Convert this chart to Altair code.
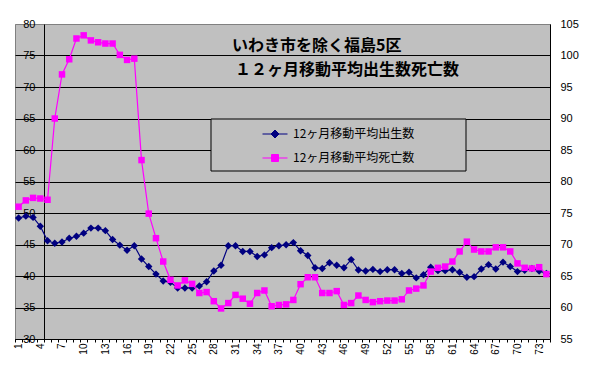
import altair as alt
import pandas as pd

months = list(range(1, 75))
births = [49.2, 49.5, 49.3, 47.9, 45.6, 45.2, 45.4, 46.0, 46.3, 46.8,
          47.6, 47.6, 47.2, 45.8, 44.9, 44.1, 44.8, 42.7, 41.5, 40.3,
          39.2, 39.0, 38.1, 38.1, 38.1, 38.4, 39.1, 40.8, 41.7, 44.8,
          44.8, 43.9, 43.9, 43.1, 43.35, 44.5, 44.8, 44.95, 45.3, 44.0,
          43.25, 41.3, 41.2, 42.1, 41.7, 41.3, 42.6, 40.95, 40.8, 41.05,
          40.7, 41.0, 41.0, 40.4, 40.6, 39.7, 40.2, 41.4, 40.85, 40.85,
          41.0, 40.6, 39.8, 39.9, 41.1, 41.8, 41.1, 42.2, 41.5, 40.7,
          40.9, 41.2, 40.8, 40.4]
deaths = [76.0, 77.0, 77.4, 77.3, 77.1, 90.0, 97.0, 99.4, 102.7, 103.2,
          102.4, 102.1, 101.9, 101.9, 100.1, 99.3, 99.5, 83.4, 74.9, 71.0,
          67.3, 64.4, 63.5, 64.3, 63.75, 62.3, 62.45, 61.0, 59.85, 60.7,
          62.0, 61.4, 60.6, 62.3, 62.7, 60.2, 60.4, 60.5, 61.2, 63.7,
          64.8, 64.8, 62.3, 62.3, 62.6, 60.4, 60.7, 61.9, 61.2, 60.85,
          61.0, 61.1, 61.1, 61.3, 62.7, 63.0, 63.5, 65.7, 66.3, 66.5,
          67.3, 68.9, 70.45, 69.2, 68.9, 68.9, 69.55, 69.55, 68.9, 67.0,
          66.3, 66.2, 66.4, 65.3]
series_names = ["12ヶ月移動平均出生数", "12ヶ月移動平均死亡数"]
series_colors = ["#000080", "#FF00FF"]
title_lines = ["いわき市を除く福島5区", "１２ヶ月移動平均出生数死亡数"]
left_ticks = list(range(30, 85, 5))
right_ticks = list(range(55, 110, 5))

df = pd.DataFrame({"month": months, "births": births, "deaths": deaths})

FONT_NUM = "Liberation Sans"
FONT_JP = "Noto Sans CJK JP"

x_enc = alt.X(
    "month:O", title=None,
    scale=alt.Scale(type="band", paddingInner=0, paddingOuter=0),
    axis=alt.Axis(labelAngle=270,
                  labelExpr="(datum.value - 1) % 3 == 0 ? datum.label : ''",
                  tickBand="extent", tickSize=3, tickColor="black",
                  domainColor="black", labelFont=FONT_NUM, labelFontSize=10,
                  labelColor="black", labelPadding=1, grid=False,
                  labelOverlap=False),
)

yb_scale = alt.Scale(domain=[30, 80], nice=False, zero=False)
yb_axis = alt.Axis(orient="left", values=left_ticks, offset=-29, grid=False,
                   ticks=False, tickSize=0, domainColor="black", labelPadding=9,
                   labelFont=FONT_NUM, labelFontSize=11, labelColor="black")
yp_scale = alt.Scale(domain=[55, 105], nice=False, zero=False)
yp_axis = alt.Axis(orient="right", values=right_ticks, grid=True,
                   gridColor=alt.condition("datum.value >= 105", alt.value("#808080"), alt.value("black")),
                   gridOpacity=1, gridWidth=1,
                   ticks=False, tickSize=0, domainColor="black", labelPadding=10,
                   labelFont=FONT_NUM, labelFontSize=11, labelColor="black")

base = alt.Chart(df)
line_b = base.mark_line(color=series_colors[0], strokeWidth=1.2).encode(
    x=x_enc, y=alt.Y("births:Q", title=None, scale=yb_scale, axis=yb_axis))
pt_b = base.mark_point(shape="diamond", filled=True, size=55, color=series_colors[0], opacity=1).encode(
    x=x_enc, y=alt.Y("births:Q", title=None, scale=yb_scale, axis=yb_axis))
line_p = base.mark_line(color=series_colors[1], strokeWidth=1.2).encode(
    x=x_enc, y=alt.Y("deaths:Q", title=None, scale=yp_scale, axis=yp_axis))
pt_p = base.mark_point(shape="square", filled=True, size=42, color=series_colors[1], opacity=1).encode(
    x=x_enc, y=alt.Y("deaths:Q", title=None, scale=yp_scale, axis=yp_axis))

blue = alt.layer(line_b, pt_b)
pink = alt.layer(line_p, pt_p)

# legend frame (decoration)
legend_box = alt.Chart(pd.DataFrame({"k": [0]})).mark_rect(
    fill="#C0C0C0", stroke="black", strokeWidth=1
).encode(x=alt.value(196), x2=alt.value(451), y=alt.value(95), y2=alt.value(147))

diamond_path = "M-1,0H1M-0.32,0L0,-0.32L0.32,0L0,0.32Z"
square_path = "M-1,0H1M-0.28,-0.28H0.28V0.28H-0.28Z"
lk = dict(orient="none", legendX=247, legendY=97, title=None,
          padding=0, symbolSize=625, symbolStrokeWidth=1, symbolOpacity=1,
          labelFont=FONT_JP, labelFontSize=12, labelColor="black", labelOffset=5,
          labelLimit=400, rowPadding=5)
legend_df = pd.DataFrame({"series": series_names})
carrier = alt.Chart(legend_df).mark_point(filled=False, clip=True, opacity=1).encode(
    x=alt.value(-50), y=alt.value(-50),
    shape=alt.Shape("series:N", scale=alt.Scale(domain=series_names, range=[diamond_path, square_path]),
                    legend=alt.Legend(**lk)),
    fill=alt.Fill("series:N", scale=alt.Scale(domain=series_names, range=series_colors),
                  legend=alt.Legend(**lk)),
    stroke=alt.Stroke("series:N", scale=alt.Scale(domain=series_names, range=series_colors),
                      legend=alt.Legend(**lk)),
)

t1 = alt.Chart(pd.DataFrame({"t": [title_lines[0]]})).mark_text(
    align="left", baseline="middle", font=FONT_JP, fontSize=16, fontWeight="bold", color="black"
).encode(x=alt.value(217), y=alt.value(22), text="t:N")
t2 = alt.Chart(pd.DataFrame({"t": [title_lines[1]]})).mark_text(
    align="left", baseline="middle", font=FONT_JP, fontSize=16, fontWeight="bold", color="black"
).encode(x=alt.value(220), y=alt.value(46), text="t:N")

chart = alt.layer(blue, pink, legend_box, carrier, t1, t2).resolve_scale(y="independent").properties(
    width=535, height=315, autosize="none",
    padding={"left": 7, "top": 16, "right": 37, "bottom": 31},
    background="white",
).configure_view(fill="#C0C0C0", stroke="#808080", strokeWidth=1)

chart.save("out.html", embed_options={"renderer": "svg", "actions": False})
